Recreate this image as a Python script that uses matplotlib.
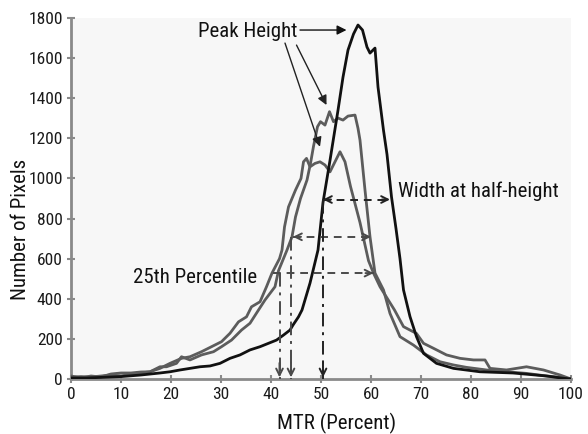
import matplotlib
matplotlib.use("Agg")
import matplotlib.pyplot as plt
from matplotlib import font_manager as fm

# pick the narrowest available sans family
_names = {f.name for f in fm.fontManager.ttflist}
_cond = {}
for f in fm.fontManager.ttflist:
    st = f.stretch
    if isinstance(st, str):
        st = {'ultra-condensed': 100, 'extra-condensed': 200, 'condensed': 300,
              'semi-condensed': 400, 'normal': 500}.get(st, 500)
    if st <= 400 and f.style == 'normal':
        _cond.setdefault(f.name, st)
STRETCH = 'normal'
PICK = None
for cand in ['Liberation Sans Narrow', 'Roboto Condensed', 'Open Sans Condensed',
             'Noto Sans Condensed', 'DejaVu Sans Condensed', 'Arial Narrow']:
    if cand in _names:
        PICK = cand
        break
if PICK is None:
    for cand in ['Roboto', 'Open Sans', 'Noto Sans', 'DejaVu Sans', 'Lato', 'Inter']:
        if cand in _cond:
            PICK = cand
            STRETCH = 'condensed'
            break
NARROW = PICK is not None
if PICK is None:
    PICK = 'Roboto' if 'Roboto' in _names else 'DejaVu Sans'
FAM = [PICK, 'DejaVu Sans']
plt.rcParams['font.family'] = FAM
plt.rcParams['font.stretch'] = STRETCH
S = 1.0 if NARROW else 0.88

# ---------------- data ----------------
x_ticks = [0, 10, 20, 30, 40, 50, 60, 70, 80, 90, 100]
y_ticks = [0, 200, 400, 600, 800, 1000, 1200, 1400, 1600, 1800]

black_x = [0, 3, 6, 10, 14, 17.8, 19.8, 21.8, 23.8, 25.8, 27.8, 29.8, 31.8, 33.8,
           35.8, 37.8, 39.5, 41.1, 42.5, 43.8, 44.4, 45.5, 46.2, 47.8, 49.4, 50.4,
           51.8, 53.4, 54.4, 55.4, 56.5, 57.4, 58.3, 59.2, 59.8, 60.8, 61.4, 62.5,
           63.2, 64.1, 65.0, 65.8, 66.5, 67.8, 69.1, 70.5, 73.1, 76.5, 81.8, 88.4,
           95.1, 98, 100]
black_y = [5, 5, 8, 12, 20, 30, 36, 45, 53, 61, 65, 78, 103, 120,
           145, 161, 178, 194, 219, 244, 269, 310, 344, 478, 643, 880,
           1090, 1340, 1505, 1640, 1720, 1765, 1740, 1655, 1625, 1650, 1456, 1240,
           1120, 908, 750, 600, 444, 311, 211, 128, 78, 53, 36, 30,
           15, 5, 0]

g1_x = [0, 2, 4, 6, 8, 10, 12, 14, 15.8, 17.8, 19.1, 21.1, 22.1, 23.8, 26.1, 28.5,
        30.1, 32.1, 34.1, 35.8, 37.5, 38.8, 40.8, 41.5, 43.2, 44.2, 44.9, 45.9,
        47.2, 47.9, 48.5, 49.3, 49.9, 50.8, 51.7, 52.5, 53.4, 54.4, 55.4, 56.8,
        57.4, 57.8, 58.8, 59.8, 60.8, 62.5, 63.8, 65.8, 68.5, 71.1, 73.8, 76.5,
        79.1, 83.1, 87.1, 91.1, 95.1, 98, 100]
g1_y = [10, 12, 10, 15, 20, 15, 25, 30, 36, 61, 61, 78, 111, 95, 120, 136,
        161, 194, 244, 278, 344, 394, 460, 540, 643, 709, 808, 900,
        992, 1075, 1160, 1258, 1283, 1266, 1333, 1283, 1301, 1291, 1311, 1316,
        1250, 1191, 942, 709, 528, 444, 327, 211, 169, 120, 86, 70,
        58, 45, 36, 28, 15, 8, 0]

g2_x = [0, 2, 4, 6, 8, 10, 12, 14, 15.8, 17.8, 19.8, 22.1, 23.8, 26.1, 28.1, 30.1,
        31.8, 33.5, 35.1, 36.1, 37.8, 39.1, 40.2, 41.7, 42.2, 42.7, 43.5, 44.9,
        46.0, 46.5, 47.1, 47.8, 48.8, 49.8, 50.8, 51.8, 52.8, 53.8, 54.8, 55.9,
        57.8, 59.5, 60.5, 61.8, 62.8, 64.7, 66.5, 69.1, 70.5, 72.5, 75.1, 77.8,
        80.5, 82.8, 83.8, 87.1, 91.1, 94.5, 97.8, 100]
g2_y = [15, 5, 15, 10, 25, 30, 30, 35, 36, 53, 78, 103, 111, 136, 161, 186,
        228, 285, 310, 360, 385, 460, 528, 600, 643, 758, 858, 942,
        1000, 1083, 1100, 1058, 1075, 1083, 1067, 1033, 1083, 1133, 1083, 960,
        780, 590, 528, 460, 420, 344, 261, 227, 178, 153, 120, 103,
        95, 95, 53, 45, 61, 45, 20, 0]

# half-height widths (y level, left x, right x) and percentile markers
half_black = (895, 50.4, 63.8)
half_g1 = (709, 44.4, 60.0)
half_g2 = (528, 40.3, 60.5)
pct_x = [41.7, 44.0, 50.4]
pct_top = [528, 709, 895]

# ---------------- figure ----------------
W, H = 588, 434
fig = plt.figure(figsize=(W / 100, H / 100), dpi=100)
fig.patch.set_facecolor('white')
ax = fig.add_axes([71 / W, 55 / H, 500 / W, 361 / H])
ax.set_facecolor('#f7f7f7')

ax.plot(g2_x, g2_y, color='#5c5c5c', lw=2.0, zorder=3)
ax.plot(g1_x, g1_y, color='#5c5c5c', lw=2.0, zorder=3)
ax.plot(black_x, black_y, color='#111111', lw=2.0, zorder=4)

ax.set_xlim(0, 100)
ax.set_ylim(0, 1800)
ax.set_xticks(x_ticks)
ax.set_yticks(y_ticks)
for s in ['top', 'right']:
    ax.spines[s].set_visible(False)
for s in ['left', 'bottom']:
    ax.spines[s].set_color('#8a8a8a')
    ax.spines[s].set_linewidth(2)
ax.tick_params(axis='both', direction='inout', length=6, width=1.5, color='#8a8a8a',
               labelsize=12.5 * S, labelcolor='#1a1a1a')
ax.tick_params(axis='x', pad=3)
ax.tick_params(axis='y', pad=3)

GRAYA = '#4a4a4a'


def head(tip, frm, color, ms=12):
    ax.annotate('', xy=tip, xytext=frm,
                arrowprops=dict(arrowstyle='->', color=color, lw=1.4,
                                mutation_scale=ms, shrinkA=0, shrinkB=0),
                zorder=6)


def hline(level, x0, x1, color, left=True):
    ax.plot([x0, x1], [level, level], color=color, lw=1.4, ls=(0, (4, 3)), zorder=5)
    if left:
        head((x0, level), (x0 + 1.6, level), color)
    head((x1, level), (x1 - 1.6, level), color)


hline(*half_black, color='#222222')
hline(*half_g1, color=GRAYA)
hline(*half_g2, color=GRAYA, left=False)

for px, top, col in zip(pct_x, pct_top, [GRAYA, GRAYA, '#222222']):
    ax.plot([px, px], [top, 0], color=col, lw=1.4, ls=(0, (7, 3, 1.5, 3)), zorder=5)
    head((px, 8), (px, 80), col)

# Peak height annotations
ax.annotate('', xy=(55.1, 1740), xytext=(45.8, 1740),
            arrowprops=dict(arrowstyle='-|>', color='#111111', lw=1.0,
                            mutation_scale=14, shrinkA=0, shrinkB=0), zorder=6)
ax.annotate('', xy=(51.1, 1366), xytext=(45.1, 1665),
            arrowprops=dict(arrowstyle='-|>', color='#222222', lw=1.0,
                            mutation_scale=14, shrinkA=0, shrinkB=0), zorder=6)
ax.annotate('', xy=(49.8, 1158), xytext=(42.8, 1675),
            arrowprops=dict(arrowstyle='-|>', color='#222222', lw=1.0,
                            mutation_scale=14, shrinkA=0, shrinkB=0), zorder=6)

TS = 15 * S if NARROW else 12.5
ax.text(45.3, 1703, 'Peak Height', fontsize=TS, ha='right', va='baseline', color='#111111')
ax.text(65.4, 909, 'Width at half-height', fontsize=TS, ha='left', va='baseline', color='#111111')
ax.text(37.2, 477, '25th Percentile', fontsize=TS, ha='right', va='baseline', color='#111111')

fig.text(336.7 / W, 1 - 429 / H, 'MTR (Percent)', fontsize=TS, ha='center', va='baseline',
         color='#111111')
fig.text(21 / W, 1 - 229 / H, 'Number of Pixels', fontsize=TS, ha='center', va='center',
         rotation=90, color='#111111')

fig.savefig('out.png', dpi=100, facecolor='white')
